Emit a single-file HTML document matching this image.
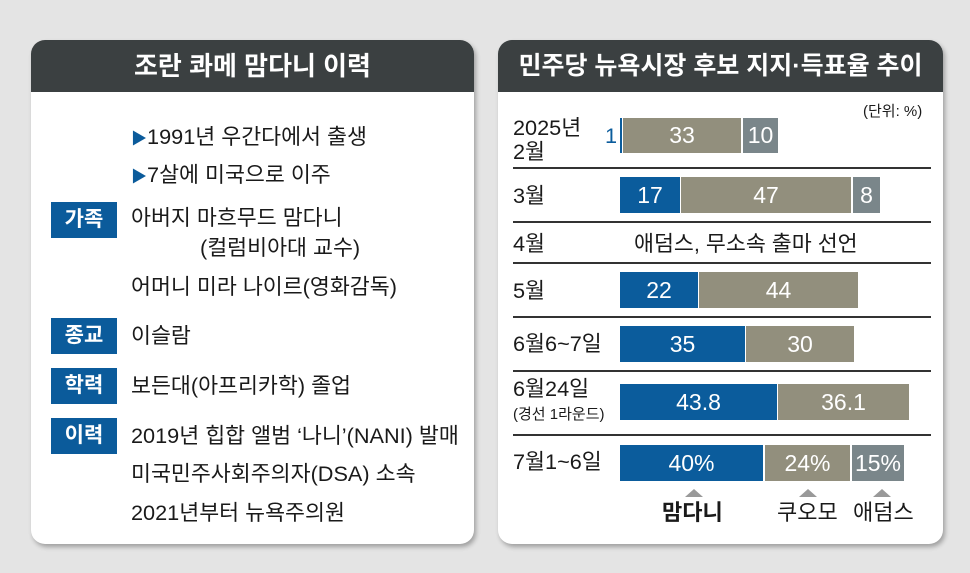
<!DOCTYPE html>
<html><head><meta charset="utf-8"><style>
*{margin:0;padding:0;box-sizing:border-box}
body{width:970px;height:573px;background:#e4e4e4;font-family:"Liberation Sans","Noto Sans CJK KR",sans-serif;position:relative;overflow:hidden;color:#1a1a1a}
.panel{position:absolute;background:#fff;border-radius:14px;overflow:hidden;box-shadow:2px 3px 5px rgba(0,0,0,.3)}
.hd{position:absolute;left:0;right:0;top:0;height:52px;background:#3b4041;color:#fff;font-weight:bold;font-size:26px;text-align:center;line-height:52px}
.a{position:absolute;white-space:nowrap;font-size:21.7px;line-height:24px}
.tag{position:absolute;left:20px;width:66px;height:36px;background:#0b5b9b;color:#fff;font-weight:bold;font-size:21px;text-align:center;line-height:36px}
.tri{color:#0b5b9b;font-size:16px}
.b{position:absolute;color:#fff;font-size:23px;text-align:center}
.bl{background:#0b5c9c}.gr{background:#928f7d}.sl{background:#7a868a}
.ln{position:absolute;left:15px;right:12px;height:2px;background:#333}
.up{position:absolute;width:0;height:0;border-left:9px solid transparent;border-right:9px solid transparent;border-bottom:8px solid #999}
</style></head><body>
<div class="panel" style="left:31px;top:40px;width:443px;height:504px">
<div class="hd">조란 콰메 맘다니 이력</div>
<div class="a" style="left:100px;top:85px"><span class="tri">▶</span>1991년 우간다에서 출생</div>
<div class="a" style="left:100px;top:123px"><span class="tri">▶</span>7살에 미국으로 이주</div>
<div class="tag" style="top:162px">가족</div>
<div class="a" style="left:100px;top:166px">아버지 마흐무드 맘다니</div>
<div class="a" style="left:169px;top:196px">(컬럼비아대 교수)</div>
<div class="a" style="left:100px;top:235px">어머니 미라 나이르(영화감독)</div>
<div class="tag" style="top:278px">종교</div>
<div class="a" style="left:100px;top:284px">이슬람</div>
<div class="tag" style="top:328px">학력</div>
<div class="a" style="left:100px;top:334px">보든대(아프리카학) 졸업</div>
<div class="tag" style="top:378px">이력</div>
<div class="a" style="left:100px;top:384px">2019년 힙합 앨범 ‘나니’(NANI) 발매</div>
<div class="a" style="left:100px;top:422px">미국민주사회주의자(DSA) 소속</div>
<div class="a" style="left:100px;top:461px">2021년부터 뉴욕주의원</div>
</div>

<div class="panel" style="left:498px;top:40px;width:445px;height:504px">
<div class="hd" style="font-size:25px">민주당 뉴욕시장 후보 지지·득표율 추이</div>
<div class="a" style="left:365px;top:60px;font-size:15px">(단위: %)</div>

<div class="a" style="left:15px;top:76px;line-height:24px">2025년<br>2월</div>
<div class="a" style="left:107px;top:84px;color:#0b5c9c">1</div>
<div class="b bl" style="left:122px;top:78px;width:2px;height:35px"></div>
<div class="b gr" style="left:125px;top:78px;width:118px;height:35px;line-height:35px">33</div>
<div class="b sl" style="left:245px;top:78px;width:35px;height:35px;line-height:35px">10</div>
<div class="ln" style="top:127px"></div>

<div class="a" style="left:15px;top:144px">3월</div>
<div class="b bl" style="left:122px;top:137px;width:60px;height:36px;line-height:36px">17</div>
<div class="b gr" style="left:183px;top:137px;width:170px;height:36px;line-height:36px">47</div>
<div class="b sl" style="left:355px;top:137px;width:27px;height:36px;line-height:36px">8</div>
<div class="ln" style="top:181px"></div>

<div class="a" style="left:15px;top:192px">4월</div>
<div class="a" style="left:136px;top:192px">애덤스, 무소속 출마 선언</div>
<div class="ln" style="top:222px"></div>

<div class="a" style="left:15px;top:239px">5월</div>
<div class="b bl" style="left:122px;top:232px;width:78px;height:36px;line-height:36px">22</div>
<div class="b gr" style="left:201px;top:232px;width:159px;height:36px;line-height:36px">44</div>
<div class="ln" style="top:276px"></div>

<div class="a" style="left:15px;top:292px">6월6~7일</div>
<div class="b bl" style="left:122px;top:286px;width:125px;height:36px;line-height:36px">35</div>
<div class="b gr" style="left:248px;top:286px;width:108px;height:36px;line-height:36px">30</div>
<div class="ln" style="top:330px"></div>

<div class="a" style="left:15px;top:337px">6월24일</div>
<div class="a" style="left:15px;top:363px;font-size:15px">(경선 1라운드)</div>
<div class="b bl" style="left:122px;top:344px;width:157px;height:36px;line-height:36px">43.8</div>
<div class="b gr" style="left:280px;top:344px;width:131px;height:36px;line-height:36px">36.1</div>
<div class="ln" style="top:394px"></div>

<div class="a" style="left:15px;top:410px">7월1~6일</div>
<div class="b bl" style="left:122px;top:405px;width:143px;height:36px;line-height:36px">40%</div>
<div class="b gr" style="left:267px;top:405px;width:85px;height:36px;line-height:36px">24%</div>
<div class="b sl" style="left:354px;top:405px;width:52px;height:36px;line-height:36px">15%</div>
<div class="up" style="left:187px;top:449px"></div>
<div class="up" style="left:301px;top:449px"></div>
<div class="up" style="left:375px;top:449px"></div>
<div class="a" style="left:164px;top:461px;font-weight:bold;font-size:22px">맘다니</div>
<div class="a" style="left:279px;top:461px;font-size:22px">쿠오모</div>
<div class="a" style="left:355px;top:461px;font-size:22px">애덤스</div>
</div>
</body></html>
